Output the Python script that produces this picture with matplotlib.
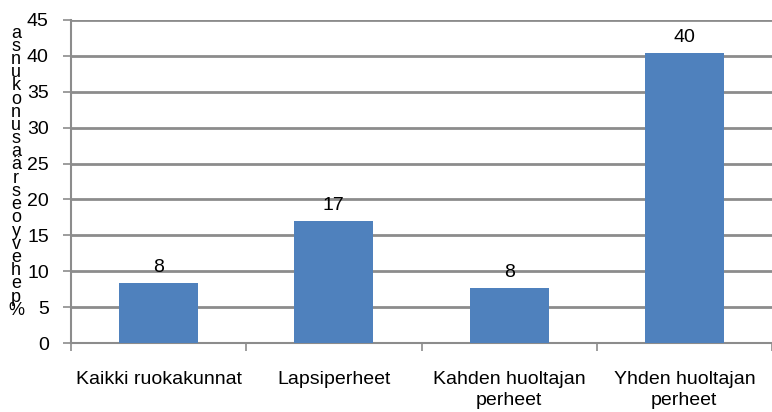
import numpy as np
import matplotlib
matplotlib.use('Agg')
from matplotlib import pyplot as plt
from matplotlib import font_manager as fm

# data
categories = ['Kaikki ruokakunnat', 'Lapsiperheet', 'Kahden huoltajan\nperheet', 'Yhden huoltajan\nperheet']
values = [8.3, 17.0, 7.7, 40.4]
bar_labels = ['8', '17', '8', '40']
yticks = [0, 5, 10, 15, 20, 25, 30, 35, 40, 45]
ylabel_chars = list('asnukonusaärseoyvehep%')

names = {f.name for f in fm.fontManager.ttflist}
fam = 'Liberation Sans Narrow' if 'Liberation Sans Narrow' in names else 'Liberation Sans'
plt.rcParams['font.family'] = [fam, 'DejaVu Sans']

W, H = 772, 412
fig = plt.figure(figsize=(W / 100, H / 100), dpi=100)
# axes: left 71px, right goes a bit past the figure edge (like the original)
left, right, top, bottom = 71, 772, 20, 343
ax = fig.add_axes([left / W, 1 - bottom / H, (right - left) / W, (bottom - top) / H])

x = np.arange(len(categories))
ax.bar(x, values, width=0.45, color='#4F81BD', zorder=3)
for xi, v, lab in zip(x, values, bar_labels):
    ax.text(xi, v + 1.0, lab, ha='center', va='bottom', fontsize=14, color='black')

step = 177.5  # px per category
ax.set_xlim(-0.5, -0.5 + (right - left) / step)
ax.set_ylim(0, 45)
ax.set_yticks(yticks)
ax.yaxis.grid(True, color='#8C8C8C', linewidth=2)
ax.set_axisbelow(True)

ax.set_xticks([])
ax.set_xticks(np.arange(len(categories) + 1) - 0.5, minor=True)
ax.tick_params(axis='x', which='minor', length=6, width=1.2, color='#8C8C8C', direction='out')
ax.tick_params(axis='y', length=6, width=1.2, color='#8C8C8C', labelsize=14, pad=10)
for xi, c in zip(x, categories):
    ax.text(xi, -3.9, c, ha='center', va='top', fontsize=14, linespacing=1.3)

for s in ['top', 'right']:
    ax.spines[s].set_visible(False)
for s in ['left', 'bottom']:
    ax.spines[s].set_color('#8C8C8C')
    ax.spines[s].set_linewidth(1.5)

# stacked vertical label
y0 = 33
for i, ch in enumerate(ylabel_chars):
    fig.text(16 / W, 1 - (y0 + i * 13.2) / H, ch, ha='center', va='center', fontsize=13)

plt.savefig('out.png', dpi=100)
